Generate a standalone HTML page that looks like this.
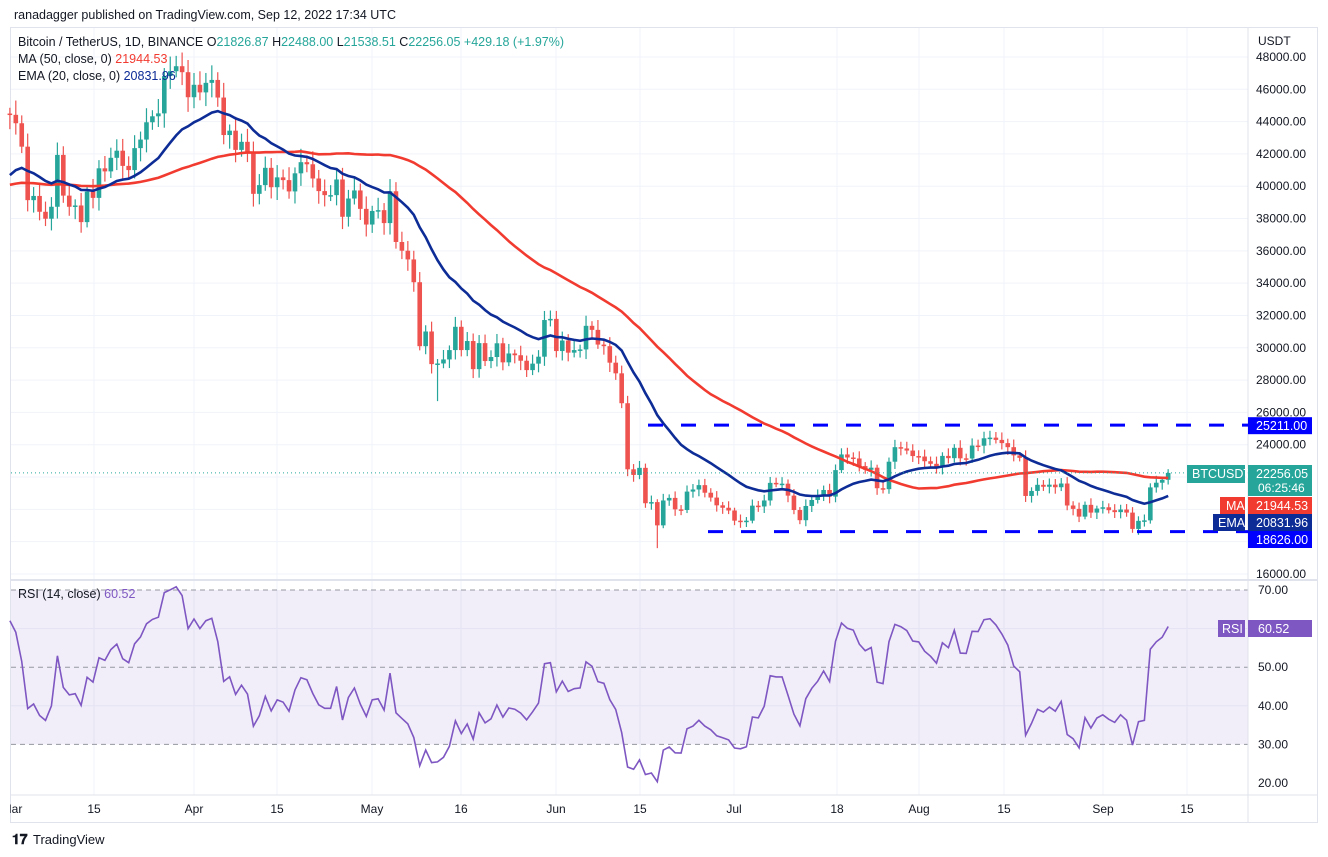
<!DOCTYPE html>
<html><head><meta charset="utf-8">
<style>
body{margin:0;background:#fff;font-family:"Liberation Sans",sans-serif;}
svg{display:block}
text{font-family:"Liberation Sans",sans-serif;}
</style></head>
<body>
<svg id="c" width="1328" height="857" xmlns="http://www.w3.org/2000/svg"></svg>
<script>
const closes=[44420,43900,42450,39140,39400,38420,37990,38730,41940,39420,38730,38810,37780,39670,39280,41110,40920,41760,42200,41260,41000,42360,42890,43960,44330,44510,46820,47120,47430,47060,45510,
46280,45810,46400,46580,45490,43170,43440,42250,42750,42150,39530,40070,41140,39940,40550,40380,39680,40800,41490,41360,40480,39700,39450,39450,40420,38110,39240,39740,38600,37630,
38470,38520,37720,39690,36550,36010,35470,34060,30100,31010,28990,29030,29280,29860,31300,29860,30420,28680,30290,29180,29430,30280,29100,29650,29540,29200,28620,29020,29450,31720,31790,
29800,30450,29700,29860,29900,31360,31110,30200,30100,29080,28420,26570,22480,22130,22570,20380,20450,19010,20550,20710,20000,19960,21100,21230,21500,21030,20730,20250,20100,19930,
19300,19240,19300,20230,20180,20550,21640,21590,21590,20850,19960,19330,20210,20580,20830,21200,20790,22430,23400,23210,23150,22680,22450,22580,21310,21250,22950,23850,23770,23640,23300,
23270,22980,22820,22610,23310,23170,23810,23160,23150,23950,23940,24400,24440,24300,24100,23850,23340,23190,20830,21140,21520,21400,21530,21370,21600,20240,20030,19550,20280,19800,20050,
20130,19950,19830,19990,19800,18790,19290,19320,21360,21650,21830,22256];
const X=i=>194+(i-31)*5.94;
const Y=p=>57+(48000-p)/1000*16.156;
const R=v=>590+(70-v)*3.86;
let s='';
s+='<text x="14" y="19" font-size="12.5" fill="#131722">ranadagger published on TradingView.com, Sep 12, 2022 17:34 UTC</text>';
s+='<rect x="10.5" y="27.5" width="1307" height="795" fill="none" stroke="#e0e3eb"/>';
for(let p=16000;p<=48000;p+=2000){s+=`<line x1="11" x2="1248" y1="${Y(p)}" y2="${Y(p)}" stroke="#f0f3fa"/>`;}
[94,194,277,372,461,556,640,734,837,919,1004,1103,1187].forEach(x=>{s+=`<line x1="${x}" x2="${x}" y1="28" y2="795" stroke="#f0f3fa"/>`});
[60,40].forEach(v=>s+=`<line x1="11" x2="1248" y1="${R(v)}" y2="${R(v)}" stroke="#f0f3fa"/>`);
s+=`<rect x="11" y="${R(70)}" width="1237" height="${R(30)-R(70)}" fill="#7e57c2" fill-opacity="0.1"/>`;
[70,50,30].forEach(v=>s+=`<line x1="11" x2="1248" y1="${R(v)}" y2="${R(v)}" stroke="#9598a1" stroke-dasharray="5 4"/>`);
s+='<line x1="11" x2="1318" y1="580" y2="580" stroke="#e0e3eb" stroke-width="2"/>';
s+='<line x1="1248" x2="1248" y1="28" y2="822" stroke="#e0e3eb"/>';
s+='<line x1="11" x2="1318" y1="795" y2="795" stroke="#e0e3eb"/>';
const opens=[44500];for(let i=1;i<closes.length;i++)opens.push(closes[i-1]);
for(let i=0;i<closes.length;i++){
 const o=opens[i],c=closes[i];const up=c>=o;const col=up?'#26a69a':'#ef5350';
 let hi=Math.max(o,c)*(1+0.008+0.012*Math.abs(Math.sin(i*1.7)));
 let lo=Math.min(o,c)*(1-0.008-0.012*Math.abs(Math.cos(i*2.3)));
 if(i==72)lo=26700; if(i==109)lo=17600; if(i==195){hi=22488;lo=21538;}
 const x=X(i);
 s+=`<line x1="${x}" x2="${x}" y1="${Y(hi)}" y2="${Y(lo)}" stroke="${col}" stroke-width="1.2"/>`;
 const y1=Y(Math.max(o,c)),h=Math.max(1.5,Y(Math.min(o,c))-y1);
 s+=`<rect x="${x-2.3}" y="${y1}" width="4.6" height="${h}" fill="${col}"/>`;
}
const seed=new Array(49).fill(40000);const all=seed.concat(closes);
let ma='',ema='',e=40300;
for(let i=0;i<closes.length;i++){
 let sum=0;for(let k=i;k<i+50;k++)sum+=all[k];const m=sum/50;
 e=e+(closes[i]-e)*2/21;
 ma+=(i?'L':'M')+X(i).toFixed(1)+' '+Y(m).toFixed(1);
 ema+=(i?'L':'M')+X(i).toFixed(1)+' '+Y(e).toFixed(1);
}
s+=`<path d="${ma}" fill="none" stroke="#f23b30" stroke-width="2.6"/>`;
s+=`<path d="${ema}" fill="none" stroke="#0d2c96" stroke-width="2.6"/>`;
s+=`<line x1="648" x2="1248" y1="${Y(25211)}" y2="${Y(25211)}" stroke="#0000ff" stroke-width="3" stroke-dasharray="15 18"/>`;
s+=`<line x1="708" x2="1248" y1="${Y(18626)}" y2="${Y(18626)}" stroke="#0000ff" stroke-width="3" stroke-dasharray="15 18"/>`;
s+=`<line x1="11" x2="1248" y1="${Y(22256)}" y2="${Y(22256)}" stroke="#26a69a" stroke-dasharray="1 3"/>`;
let ag=0.75,al=0.45,rp='';
for(let i=0;i<closes.length;i++){
 const d=closes[i]-opens[i];const g=Math.max(d,0),l=Math.max(-d,0);
 ag=(ag*13+g/700)/14;al=(al*13+l/700)/14;
 const r=100-100/(1+ag/al);
 rp+=(i?'L':'M')+X(i).toFixed(1)+' '+R(r).toFixed(1);
}
s+=`<path d="${rp}" fill="none" stroke="#7e57c2" stroke-width="1.6"/>`;
s+='<text x="18" y="46" font-size="12.5" fill="#131722">Bitcoin / TetherUS, 1D, BINANCE  O<tspan fill="#26a69a">21826.87</tspan> H<tspan fill="#26a69a">22488.00</tspan> L<tspan fill="#26a69a">21538.51</tspan> C<tspan fill="#26a69a">22256.05 +429.18 (+1.97%)</tspan></text>';
s+='<text x="18" y="63" font-size="12.5" fill="#131722">MA (50, close, 0) <tspan fill="#f23b30">21944.53</tspan></text>';
s+='<text x="18" y="80" font-size="12.5" fill="#131722">EMA (20, close, 0) <tspan fill="#0d2c96">20831.96</tspan></text>';
s+='<text x="18" y="598" font-size="12.5" fill="#131722">RSI (14, close) <tspan fill="#7e57c2">60.52</tspan></text>';
s+='<text x="1258" y="45" font-size="12" fill="#131722">USDT</text>';
for(let p=16000;p<=48000;p+=2000){s+=`<text x="1256" y="${Y(p)+4}" font-size="12" fill="#131722">${p}.00</text>`;}
[70,60,50,40,30,20].forEach(v=>s+=`<text x="1258" y="${R(v)+4}" font-size="12" fill="#131722">${v}.00</text>`);
s+=`<rect x="1248" y="${Y(25211)-8}" width="64" height="17" fill="#0000ff"/><text x="1256" y="${Y(25211)+5}" font-size="12.5" fill="#fff">25211.00</text>`;
s+=`<rect x="1248" y="531" width="64" height="17" fill="#0000ff"/><text x="1256" y="544" font-size="12.5" fill="#fff">18626.00</text>`;
s+=`<rect x="1187" y="465" width="58" height="18" fill="#26a69a"/><text x="1192" y="478" font-size="12.5" fill="#fff">BTCUSDT</text>`;
s+=`<rect x="1248" y="465" width="64" height="31" fill="#26a69a"/><text x="1256" y="478" font-size="12.5" fill="#fff">22256.05</text><text x="1258" y="492" font-size="12" fill="#fff">06:25:46</text>`;
s+=`<rect x="1220" y="497" width="25" height="17" fill="#f23b30"/><text x="1226" y="510" font-size="12.5" fill="#fff">MA</text>`;
s+=`<rect x="1248" y="497" width="64" height="17" fill="#f23b30"/><text x="1256" y="510" font-size="12.5" fill="#fff">21944.53</text>`;
s+=`<rect x="1213" y="514" width="32" height="17" fill="#0d2c96"/><text x="1218" y="527" font-size="12.5" fill="#fff">EMA</text>`;
s+=`<rect x="1248" y="514" width="64" height="17" fill="#0d2c96"/><text x="1256" y="527" font-size="12.5" fill="#fff">20831.96</text>`;
s+=`<rect x="1218" y="620" width="27" height="17" fill="#7e57c2"/><text x="1222" y="633" font-size="12.5" fill="#fff">RSI</text>`;
s+=`<rect x="1248" y="620" width="64" height="17" fill="#7e57c2"/><text x="1258" y="633" font-size="12.5" fill="#fff">60.52</text>`;
[[12,'Mar'],[94,'15'],[194,'Apr'],[277,'15'],[372,'May'],[461,'16'],[556,'Jun'],[640,'15'],[734,'Jul'],[837,'18'],[919,'Aug'],[1004,'15'],[1103,'Sep'],[1187,'15']].forEach(([x,t])=>{
 s+=`<text x="${x}" y="813" font-size="12" fill="#131722" text-anchor="middle">${t}</text>`;});
s+='<rect x="0" y="795" width="10" height="30" fill="#fff"/>';
s+='<text x="12" y="844" font-size="14" font-weight="bold" fill="#131722">𝟏𝟕</text><text x="33" y="844" font-size="13" fill="#131722">TradingView</text>';
document.getElementById('c').innerHTML=s;
</script>
</body></html>
